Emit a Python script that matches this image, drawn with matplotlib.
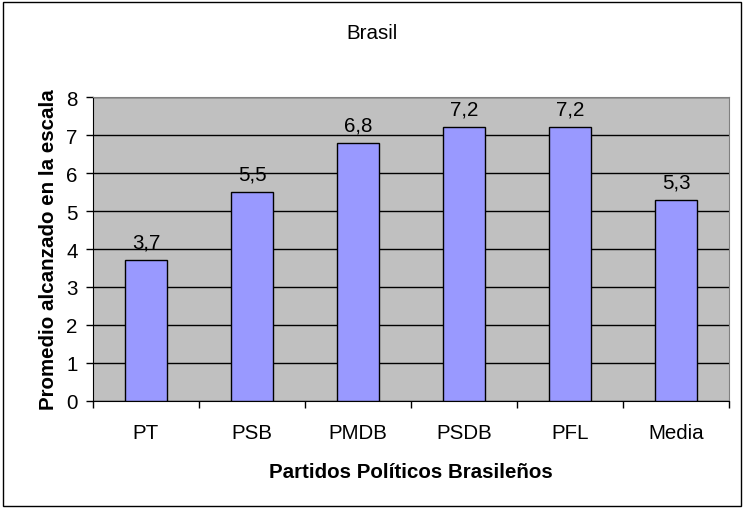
import numpy as np
import matplotlib.pyplot as plt
from matplotlib.patches import Rectangle

partidos = ["PT", "PSB", "PMDB", "PSDB", "PFL", "Media"]
promedios = [3.7, 5.5, 6.8, 7.2, 7.2, 5.3]
etiquetas = ["3,7", "5,5", "6,8", "7,2", "7,2", "5,3"]

plt.rcParams['font.family'] = ['Liberation Sans', 'DejaVu Sans']
FS = 14.8

fig = plt.figure(figsize=(7.45, 5.10), dpi=100)
ax = fig.add_axes([0.1248, 0.2118, 0.8537, 0.596])

x = np.arange(len(partidos))
ax.bar(x, promedios, width=0.4, color="#9999FF", edgecolor="black", linewidth=1, zorder=3)

for xi, v, lab in zip(x, promedios, etiquetas):
    ax.annotate(lab, (xi, v), xytext=(0, 13), textcoords="offset points",
                ha="center", va="center", fontsize=FS)

ax.set_facecolor("#C0C0C0")
ax.set_xlim(-0.5, len(partidos) - 0.5)
ax.set_ylim(0, 8)
ax.set_yticks(range(0, 9))
ax.yaxis.grid(True, color="black", linewidth=1, zorder=0)
ax.set_axisbelow(True)

# ticks on category boundaries, labels centred in between
ax.set_xticks(np.arange(-0.5, len(partidos), 1))
ax.set_xticklabels([])
ax.set_xticks(x, minor=True)
ax.set_xticklabels(partidos, minor=True, fontsize=FS)
ax.tick_params(axis="x", which="major", direction="out", length=5, width=1)
ax.tick_params(axis="x", which="minor", length=0, pad=16)
ax.tick_params(axis="y", direction="out", length=5, width=1, pad=6, labelsize=FS)

for s in ["top", "right"]:
    ax.spines[s].set_color("#808080")
for s in ["left", "bottom"]:
    ax.spines[s].set_color("black")

ax.set_ylabel("Promedio alcanzado en la escala", fontsize=FS, fontweight="bold", labelpad=6)
ax.set_xlabel("Partidos Políticos Brasileños", fontsize=FS, fontweight="bold", labelpad=14)
fig.text(0.5, 0.935, "Brasil", ha="center", va="center", fontsize=FS)

fig.patches.append(Rectangle((0.004, 0.006), 0.991, 0.988, transform=fig.transFigure,
                             fill=False, edgecolor="black", linewidth=1))

fig.savefig("out.png", dpi=100)
